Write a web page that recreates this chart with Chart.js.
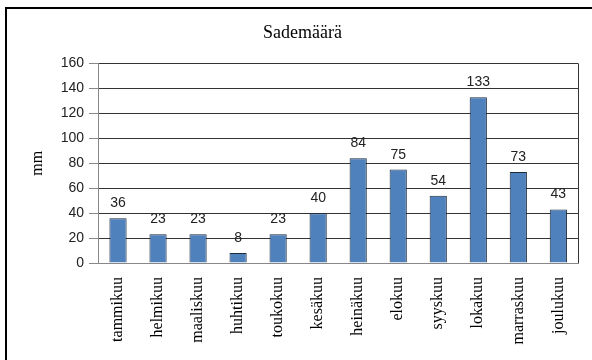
<!DOCTYPE html>
<html>
<head>
<meta charset="utf-8">
<script src="https://cdn.jsdelivr.net/npm/chart.js@4/dist/chart.umd.min.js"></script>
<style>
  html, body { margin: 0; padding: 0; background: #fff; }
  #wrap { width: 592px; height: 360px; position: relative; }
</style>
</head>
<body>
<div id="wrap"><canvas id="sadechart" width="592" height="360"></canvas></div>
<script>
// kuukausittainen sademäärä (mm)
var months = ['tammikuu', 'helmikuu', 'maaliskuu', 'huhtikuu', 'toukokuu', 'kesäkuu',
              'heinäkuu', 'elokuu', 'syyskuu', 'lokakuu', 'marraskuu', 'joulukuu'];
var rainfall = [36, 23, 23, 8, 23, 40, 84, 75, 54, 133, 73, 43];
var yTicks = [0, 20, 40, 60, 80, 100, 120, 140, 160];

// outer frame + right edge of the plot area
var framePlugin = {
    id: 'frame',
    afterDraw: function(chart) {
        var ctx = chart.ctx;
        var a = chart.chartArea;
        ctx.save();
        ctx.strokeStyle = '#000';
        ctx.lineWidth = 2;
        ctx.beginPath();
        ctx.moveTo(6, 360);
        ctx.lineTo(6, 8);
        ctx.lineTo(592, 8);
        ctx.stroke();
        ctx.strokeStyle = '#333';
        ctx.lineWidth = 1;
        ctx.beginPath();
        ctx.moveTo(Math.round(a.right) + 0.5, a.top);
        ctx.lineTo(Math.round(a.right) + 0.5, a.bottom);
        ctx.stroke();
        ctx.restore();
    }
};

// value labels above the bars
var valuePlugin = {
    id: 'values',
    afterDatasetsDraw: function(chart) {
        var ctx = chart.ctx;
        var meta = chart.getDatasetMeta(0);
        ctx.save();
        ctx.font = '14px "Liberation Sans", Arial, sans-serif';
        ctx.fillStyle = '#222';
        ctx.textAlign = 'center';
        ctx.textBaseline = 'alphabetic';
        meta.data.forEach(function(bar, i) {
            ctx.fillText(String(rainfall[i]), bar.x, bar.y - 11);
        });
        ctx.restore();
    }
};

var ctx = document.getElementById('sadechart').getContext('2d');
var chart = new Chart(ctx, {
    type: 'bar',
    data: {
        labels: months,
        datasets: [{
            data: rainfall,
            backgroundColor: '#4F81BD',
            borderColor: '#1d2a3a',
            borderWidth: 1,
            barPercentage: 0.43,
            categoryPercentage: 1
        }]
    },
    options: {
        responsive: false,
        animation: false,
        layout: { padding: { left: 24, top: 10, right: 11, bottom: 0 } },
        plugins: {
            legend: { display: false },
            tooltip: { enabled: false },
            title: {
                display: true,
                text: 'Sademäärä',
                color: '#000',
                font: { family: '"Liberation Serif", "Times New Roman", serif', size: 18, weight: 'normal' },
                padding: { top: 12, bottom: 20 }
            }
        },
        scales: {
            x: {
                grid: { display: false, drawTicks: false },
                border: { display: true, color: '#888' },
                ticks: {
                    color: '#000',
                    minRotation: 90,
                    maxRotation: 90,
                    autoSkip: false,
                    padding: 14,
                    font: { family: '"Liberation Serif", "Times New Roman", serif', size: 16 }
                },
                afterFit: function(scale) { scale.height = 97; }
            },
            y: {
                min: 0,
                max: 160,
                afterBuildTicks: function(scale) {
                    scale.ticks = yTicks.map(function(v) { return { value: v }; });
                },
                grid: {
                    color: function(c) { return c.tick && c.tick.value === 0 ? '#888' : '#333'; },
                    tickColor: '#888',
                    tickLength: 9
                },
                border: { display: true, color: '#888' },
                ticks: {
                    color: '#222',
                    padding: 5,
                    font: { family: '"Liberation Sans", Arial, sans-serif', size: 14 }
                },
                title: {
                    display: true,
                    text: 'mm',
                    color: '#000',
                    padding: { top: 4, bottom: 0 },
                    font: { family: '"Liberation Serif", "Times New Roman", serif', size: 16 }
                },
                afterFit: function(scale) { scale.width = 74; }
            }
        }
    },
    plugins: [framePlugin, valuePlugin]
});
</script>
</body>
</html>
